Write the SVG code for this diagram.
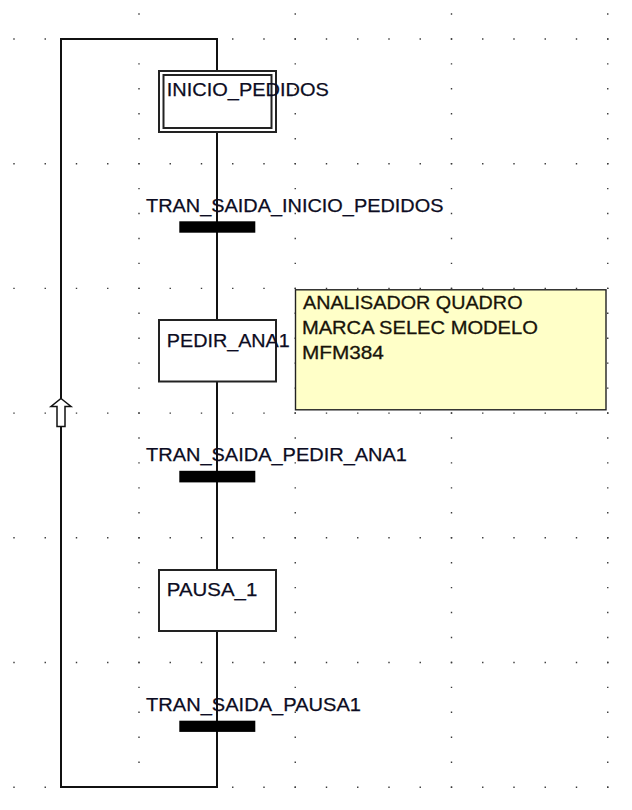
<svg xmlns="http://www.w3.org/2000/svg" width="632" height="810" viewBox="0 0 632 810">
<style>
.grid{stroke:#3a3a3a;stroke-width:1.4;fill:none}
.ln{stroke:#111;stroke-width:2;fill:none}
.step{fill:#fff;stroke:#222;stroke-width:2}
.bar{fill:#000}
.lbl{font-family:"Liberation Sans",Arial,sans-serif;font-size:19px;fill:#0c0c22;stroke:#0c0c22;stroke-width:0.25}
.note{fill:#ffffc8;stroke:#222;stroke-width:1.4}
.ntxt{font-family:"Liberation Sans",Arial,sans-serif;font-size:19px;fill:#18140a;stroke:#18140a;stroke-width:0.3}
</style>
<rect width="632" height="810" fill="#fff"/>
<g id="grid" class="grid">
<path stroke-dasharray="1.4 29.85" d="M13.3 39H632M13.3 163.7H632M13.3 288.4H632M13.3 413.1H632M13.3 537.8H632M13.3 662.5H632M13.3 787.2H632"/>
<path stroke-dasharray="1.4 23.54" d="M139 13.3V810M295.25 13.3V810M451.5 13.3V810M607.75 13.3V810"/>
</g>
<g id="connectors">
<path class="ln" d="M217 70V39H61V787H217V631"/>
<path class="ln" d="M217 132V320"/>
<path class="ln" d="M217 382V570"/>
<polygon points="61,398.5 71,406.5 65,406.5 65,426.5 57,426.5 57,406.5 51,406.5" fill="#fff" stroke="#111" stroke-width="1.5"/>
</g>
<g id="INICIO_PEDIDOS">
<rect class="step" x="159" y="71" width="117" height="61"/>
<rect class="step" x="163.5" y="75" width="108" height="53"/>
<text class="lbl" x="166.8" y="96.3" textLength="162" lengthAdjust="spacingAndGlyphs">INICIO_PEDIDOS</text>
</g>
<g id="TRAN_SAIDA_INICIO_PEDIDOS">
<rect class="bar" x="179.3" y="221.3" width="76" height="11.4"/>
<text class="lbl" x="146" y="211.5" textLength="297.5" lengthAdjust="spacingAndGlyphs">TRAN_SAIDA_INICIO_PEDIDOS</text>
</g>
<g id="PEDIR_ANA1">
<rect class="step" x="159" y="320" width="117" height="61.5"/>
<text class="lbl" x="166.8" y="346.6" textLength="123" lengthAdjust="spacingAndGlyphs">PEDIR_ANA1</text>
</g>
<g id="nota">
<rect class="note" x="295.5" y="289.8" width="310.5" height="120"/>
<text class="ntxt" x="303" y="308.5" textLength="219.5" lengthAdjust="spacingAndGlyphs">ANALISADOR QUADRO</text>
<text class="ntxt" x="301.9" y="334" textLength="236" lengthAdjust="spacingAndGlyphs">MARCA SELEC MODELO</text>
<text class="ntxt" x="301.9" y="358.5" textLength="82" lengthAdjust="spacingAndGlyphs">MFM384</text>
</g>
<g id="TRAN_SAIDA_PEDIR_ANA1">
<rect class="bar" x="179.3" y="470.8" width="76" height="11.6"/>
<text class="lbl" x="146" y="460.7" textLength="261" lengthAdjust="spacingAndGlyphs">TRAN_SAIDA_PEDIR_ANA1</text>
</g>
<g id="PAUSA_1">
<rect class="step" x="159" y="570" width="117" height="61"/>
<text class="lbl" x="166.8" y="595.7" textLength="90.5" lengthAdjust="spacingAndGlyphs">PAUSA_1</text>
</g>
<g id="TRAN_SAIDA_PAUSA1">
<rect class="bar" x="179.3" y="720.7" width="76" height="11.2"/>
<text class="lbl" x="146" y="710.5" textLength="215" lengthAdjust="spacingAndGlyphs">TRAN_SAIDA_PAUSA1</text>
</g>
</svg>
